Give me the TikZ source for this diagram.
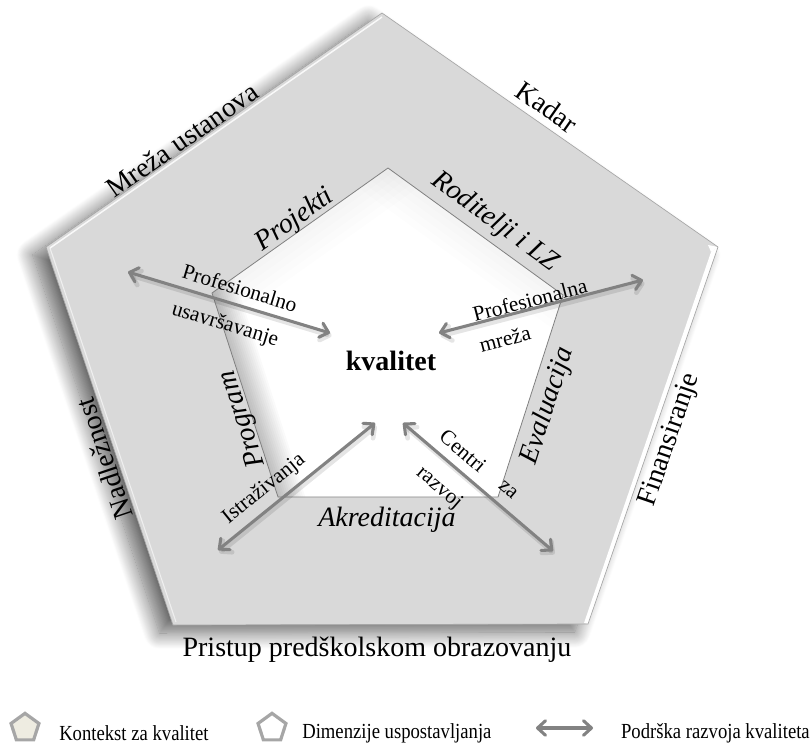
\documentclass[tikz,border=0pt]{standalone}
\usepackage{fontspec}
\setmainfont{Liberation Serif}
\usetikzlibrary{arrows.meta,shadows.blur,calc,shapes.geometric}
\definecolor{facegray}{HTML}{D9D9D9}
\definecolor{arrowgray}{HTML}{828282}
\definecolor{edgegray}{HTML}{A6A6A6}
\definecolor{beige}{HTML}{EEECE1}
\newcommand{\legtext}[1]{\scalebox{1}[1.15]{#1}}
\begin{document}
\begin{tikzpicture}[x=0.75pt,y=-0.75pt,
  outerlbl/.style={font=\fontsize{21}{24}\selectfont, inner sep=0pt},
  innerlbl/.style={font=\fontsize{21}{24}\selectfont\itshape, inner sep=0pt},
  arrlbl/.style={font=\fontsize{16}{18}\selectfont, inner sep=0pt},
  legendlbl/.style={font=\fontsize{14}{16}\selectfont, inner sep=0pt},
  barb/.tip={Straight Barb[round,length=6pt,width=11pt]},
  suparrow/.style={draw=arrowgray, line width=2.3pt, line cap=round, {barb}-{barb}},
  arrshadow/.style={draw=black, opacity=0.1, line width=3.5pt, line cap=round, {barb}-{barb}},
  legpent/.style={regular polygon, regular polygon sides=5, draw=edgegray, line width=2.4pt, minimum size=22pt, inner sep=0pt},
]
\useasboundingbox (0,0) rectangle (812,745);

% outer pentagon corners
\coordinate (oT) at (382,13);
\coordinate (oR) at (718,247);
\coordinate (oBR) at (588,624);
\coordinate (oBL) at (173,625);
\coordinate (oL) at (46,247);
% inner pentagon corners
\coordinate (iT) at (388,168);
\coordinate (iR) at (563,295);
\coordinate (iBR) at (498,497);
\coordinate (iBL) at (278,497);
\coordinate (iL) at (212,293);

% outer pentagon with soft shadow
\path[fill=facegray, blur shadow={shadow xshift=-10pt, shadow yshift=-6pt, shadow blur radius=12pt, shadow blur steps=20, shadow opacity=60}]
  (oT) -- (oR) -- (oBR) -- (oBL) -- (oL) -- cycle;
% right bevel strip
\fill[white] (oR) -- (oBR) -- ($(oBR)+(-4,-1)$) -- ($(oR)+(-7,5)$) -- cycle;
\fill[white] (oR) -- ($(oR)+(-7,5)$) -- ($(oR)+(-10,-2)$) -- cycle;
% top-left highlight
\draw[white, line width=1.1pt, opacity=0.85] ($(oL)+(4,1)$) -- ($(oT)+(0,4)$);
\draw[white, line width=0.8pt, opacity=0.6] ($(oL)+(4,1)$) -- ($(oBL)+(3,-3)$);
\draw[edgegray, line width=0.5pt] (oT) -- (oR) -- (oBR) -- (oBL) -- (oL) -- cycle;

% inner pentagon
\fill[white] (iT) -- (iR) -- (iBR) -- (iBL) -- (iL) -- cycle;
\begin{scope}
  \clip (iT) -- (iR) -- (iBR) -- (iBL) -- (iL) -- cycle;
  \foreach \w in {3,6,...,39} {
    \draw[black, opacity=0.018, line width=\w pt] ($(iL)!-0.2!(iBL)$) -- ($(iBL)!-0.2!(iL)$);
  }
  \foreach \w in {10,20,...,50} {
    \draw[black, opacity=0.007, line width=\w pt] ($(iL)!-0.2!(iT)$) -- ($(iT)!-0.2!(iL)$);
    \draw[black, opacity=0.007, line width=\w pt] ($(iT)!-0.2!(iR)$) -- ($(iR)!-0.2!(iT)$);
  }
\end{scope}
\draw[gray, line width=0.6pt] (iT) -- (iR) -- (iBR) -- (iBL) -- (iL) -- cycle;

% outer labels
\node[outerlbl, rotate=35] (mreza) at (182,140) {Mreža ustanova};
\node[outerlbl, rotate=-35] (kadar) at (547,107) {Kadar};
\node[outerlbl, rotate=108.6] (nadl) at (104,459) {Nadležnost};
\node[outerlbl, rotate=71] (fin) at (670,440) {Finansiranje};
\node[outerlbl] (pristup) at (377,650) {Pristup predškolskom obrazovanju};
% inner labels
\node[innerlbl, rotate=35.4] (proj) at (295,220) {Projekti};
\node[innerlbl, rotate=-36] (rod) at (495,222) {Roditelji i LZ};
\node[innerlbl, rotate=108] (prog) at (243,419) {Program};
\node[innerlbl, rotate=72.2] (eval) at (548,406) {Evaluacija};
\node[innerlbl] (akr) at (387,520) {Akreditacija};
\node[font=\fontsize{21}{24}\selectfont\bfseries, inner sep=0pt] (kval) at (391,361) {kvalitet};

% arrows
\coordinate (a1s) at (128,272); \coordinate (a1e) at (330,333);
\coordinate (a2s) at (439,333); \coordinate (a2e) at (643,280);
\coordinate (a3s) at (218,550); \coordinate (a3e) at (375,423);
\coordinate (a4s) at (403,423); \coordinate (a4e) at (553,551);
\foreach \s/\e in {a1s/a1e,a2s/a2e,a3s/a3e,a4s/a4e} {
  \draw[arrshadow] ($(\s)+(1.5,3)$) -- ($(\e)+(1.5,3)$);
  \draw[suparrow] (\s) -- (\e);
}

% arrow labels
\node[arrlbl, rotate=-16.8] (l1a) at (240,288) {Profesionalno};
\node[arrlbl, rotate=-16.8] (l1b) at (225,325) {usavršavanje};
\node[arrlbl, rotate=14.6] (l2a) at (530,300) {Profesionalna};
\node[arrlbl, rotate=14.6] (l2b) at (505,339) {mreža};
\node[arrlbl, rotate=39] (l3a) at (264,489) {Istraživanja};
\node[arrlbl, rotate=-40.5] (l4a) at (463,451) {Centri};
\node[arrlbl, rotate=-40.5] (l4b) at (508,490) {za};
\node[arrlbl, rotate=-40.5] (l4c) at (439,488) {razvoj};

% legend
\node[legpent, fill=beige] (lg1) at (25,728) {};
\node[legendlbl, anchor=west] (lt1) at (59,733) {\legtext{Kontekst za kvalitet}};
\node[legpent, fill=white] (lg2) at (272,728) {};
\node[legendlbl, anchor=west] (lt2) at (302,733) {\legtext{Dimenzije uspostavljanja}};
\coordinate (lgas) at (536,728); \coordinate (lgae) at (593,728);
\draw[suparrow] (lgas) -- (lgae);
\node[legendlbl, anchor=east] (lt3) at (810,733) {\legtext{Podrška razvoja kvaliteta}};
\end{tikzpicture}
\end{document}
